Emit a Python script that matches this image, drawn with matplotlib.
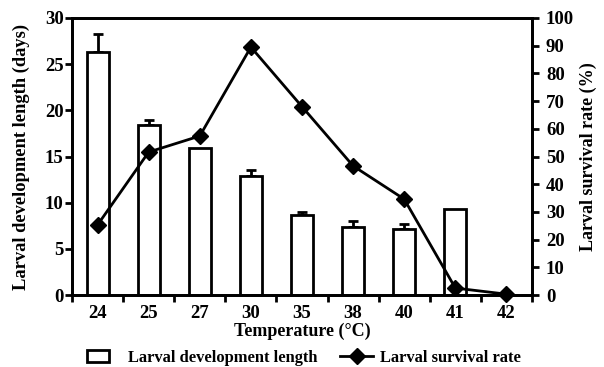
import matplotlib
matplotlib.use("Agg")
import matplotlib.pyplot as plt
import numpy as np
from matplotlib.patches import Patch
from matplotlib.lines import Line2D

temps = ["24", "25", "27", "30", "35", "38", "40", "41", "42"]
dev_length = [26.3, 18.4, 15.9, 12.9, 8.7, 7.4, 7.15, 9.3, 0]
dev_err = [2.0, 0.6, 0.0, 0.6, 0.3, 0.6, 0.5, 0.0, 0.0]
survival = [25.3, 51.6, 57.4, 89.5, 68.0, 46.6, 34.6, 2.5, 0.3]

plt.rcParams['font.family'] = ['Liberation Serif', 'DejaVu Serif']
plt.rcParams['font.size'] = 13.5
plt.rcParams['font.weight'] = 'bold'
plt.rcParams['axes.labelweight'] = 'bold'

fig = plt.figure(figsize=(6.04, 3.67), dpi=100)
ax = fig.add_axes([72/604, 1-295/367, 460/604, 277/367])
x = np.arange(len(temps))

bars = ax.bar(x, dev_length, width=0.43, color='white', edgecolor='black', linewidth=2, zorder=2)
for xi, v, e in zip(x, dev_length, dev_err):
    if e > 0:
        ax.errorbar(xi, v, yerr=[[0], [e]], fmt='none', ecolor='black', elinewidth=2, capsize=3.5, capthick=2, zorder=1)

ax.set_xlim(-0.5, len(temps) - 0.5)
ax.set_ylim(0, 30)
ax.set_yticks([0, 5, 10, 15, 20, 25, 30])
ax.set_xticks(x)
ax.set_xticklabels(temps)
ax.set_xticks(np.arange(-0.5, len(temps), 1), minor=True)
ax.tick_params(axis='x', which='major', length=0, pad=7)
ax.tick_params(axis='x', which='minor', length=5, width=2, direction='out')
ax.tick_params(axis='y', length=5, width=2, direction='out', pad=1)
for s in ax.spines.values():
    s.set_linewidth(2)
ax.set_ylabel("Larval development length (days)", labelpad=11, fontsize=13.3)
ax.set_xlabel("Temperature (\u00b0C)", labelpad=1, fontsize=13)

ax2 = ax.twinx()
ax2.plot(x, survival, color='black', linewidth=2, marker='D', markersize=8, markerfacecolor='black', zorder=3, clip_on=False)
ax2.set_ylim(0, 100)
ax2.set_yticks(np.arange(0, 101, 10))
ax2.tick_params(axis='y', length=5, width=2, direction='out', pad=5)
for s in ax2.spines.values():
    s.set_linewidth(2)
ax2.set_ylabel("Larval survival rate (%)", labelpad=4, fontsize=13)

h1 = [Patch(facecolor='white', edgecolor='black', linewidth=2)]
h2 = [Line2D([0], [0], color='black', linewidth=2, marker='D', markersize=8)]
fig.legend(h1, ["Larval development length"], loc='center left',
           bbox_to_anchor=(87/604, 1-358/367), frameon=False, borderpad=0, borderaxespad=0,
           handlelength=1.35, handletextpad=1.15, fontsize=11.9)
fig.legend(h2, ["Larval survival rate"], loc='center left',
           bbox_to_anchor=(340/604, 1-358/367), frameon=False, borderpad=0, borderaxespad=0,
           handlelength=2.0, handletextpad=0.43, fontsize=11.9)

fig.savefig("out.png", dpi=100)
